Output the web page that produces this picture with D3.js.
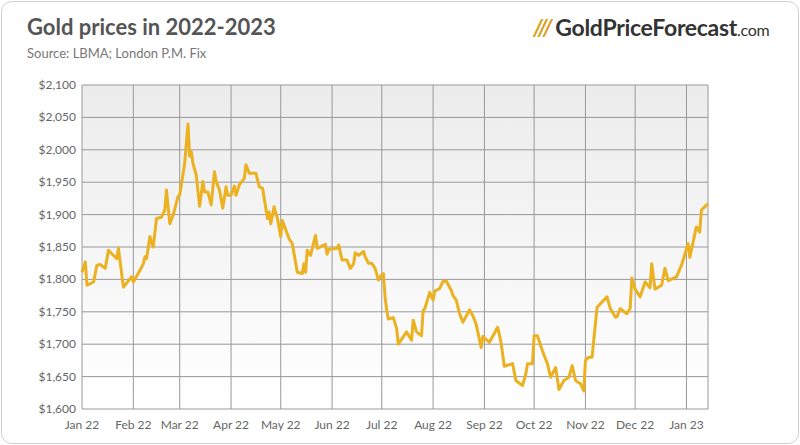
<!DOCTYPE html>
<html><head><meta charset="utf-8">
<script src="https://cdn.jsdelivr.net/npm/d3@7"></script>
<style>body{margin:0;background:#fff;font-family:Lato,"Open Sans",sans-serif}</style>
</head><body><svg id="c" width="800" height="445"></svg>
<script>
// day offset from 2022-01-01
const days = [0,2,3,7,9,11,14,16,19,21,22,25,30,31,35,37,38,39,41,43,45,48,50,51,53,55,58,59,62,64,65,66,67,69,71,73,74,76,78,80,81,83,85,87,88,90,92,93,95,98,99,101,105,107,109,112,113,114,116,118,120,121,125,127,130,133,134,135,136,138,141,142,147,148,149,154,155,157,160,162,164,165,167,170,171,173,175,177,179,180,182,183,184,185,188,190,191,196,199,200,202,205,206,207,210,212,213,216,218,220,223,224,226,228,230,234,236,238,241,242,246,251,253,255,260,262,266,268,269,272,273,275,278,281,283,286,288,291,294,296,298,301,303,304,306,308,311,317,319,322,323,325,329,331,332,334,337,340,343,344,346,350,352,354,359,362,366,367,371,373,374,378];
const prices = [1811,1827,1791,1796,1822,1823,1817,1845,1837,1832,1848,1788,1804,1796,1814,1824,1835,1832,1866,1850,1894,1896,1907,1938,1886,1899,1928,1930,1979,2040,1990,1997,1979,1961,1913,1951,1935,1935,1915,1966,1951,1938,1910,1943,1930,1930,1944,1930,1946,1956,1977,1964,1964,1943,1941,1894,1904,1886,1912,1894,1866,1891,1863,1855,1811,1809,1824,1811,1845,1837,1868,1848,1854,1839,1846,1848,1853,1830,1830,1817,1824,1841,1837,1843,1835,1825,1825,1817,1799,1804,1809,1773,1752,1739,1741,1724,1700,1719,1706,1737,1719,1713,1752,1755,1780,1768,1782,1786,1797,1797,1783,1775,1768,1747,1734,1753,1744,1731,1695,1712,1703,1726,1703,1666,1670,1644,1636,1654,1670,1670,1713,1713,1690,1670,1649,1664,1630,1644,1649,1667,1644,1639,1628,1675,1680,1680,1757,1773,1755,1742,1742,1755,1747,1755,1802,1785,1773,1796,1787,1824,1785,1791,1817,1798,1804,1822,1855,1834,1881,1873,1907,1917];
const yTicks = [1600,1650,1700,1750,1800,1850,1900,1950,2000,2050,2100];
const monthLabels = ["Jan 22","Feb 22","Mar 22","Apr 22","May 22","Jun 22","Jul 22","Aug 22","Sep 22","Oct 22","Nov 22","Dec 22","Jan 23"];

const svg = d3.select("#c");
const L=82,R=708,T=85,B=409;
const start = new Date(2022,0,1);
const dt = d => d3.timeDay.offset(start,d);
const x = d3.scaleTime().domain([start, dt(378)]).range([L,R]);
const y = d3.scaleLinear().domain([1600,2100]).range([B,T]);

svg.append("rect").attr("x",1.5).attr("y",1.5).attr("width",797).attr("height",442).attr("rx",10)
  .attr("fill","#fff").attr("stroke","#d0d0d0");
const g = svg.append("defs").append("linearGradient").attr("id","bg").attr("x1",0).attr("x2",0).attr("y1",0).attr("y2",1);
g.append("stop").attr("offset","0").attr("stop-color","#ececec");
g.append("stop").attr("offset","1").attr("stop-color","#ffffff");
svg.append("rect").attr("x",L).attr("y",T).attr("width",R-L).attr("height",B-T).attr("fill","url(#bg)");

svg.append("text").attr("x",27).attr("y",35).attr("font-size",22).attr("font-weight","bold").attr("fill","#555").text("Gold prices in 2022-2023");
svg.append("text").attr("x",27).attr("y",58).attr("font-size",13).attr("fill","#777").text("Source: LBMA; London P.M. Fix");
const logo = svg.append("text").attr("x",533).attr("y",36).attr("font-size",23).attr("font-weight","bold").attr("letter-spacing","-0.3");
logo.append("tspan").attr("fill","#d9a11d").attr("font-style","italic").text("///");
logo.append("tspan").attr("fill","#333").attr("dx",3).text("GoldPriceForecast");
logo.append("tspan").attr("fill","#333").attr("font-weight","normal").attr("font-size",16).text(".com");

const months = d3.range(13).map(i=>new Date(2022,i,1));
svg.append("g").selectAll("line").data(months).join("line")
  .attr("x1",d=>x(d)).attr("x2",d=>x(d)).attr("y1",T).attr("y2",B).attr("stroke","#999");
svg.append("g").selectAll("line").data(yTicks).join("line")
  .attr("x1",L).attr("x2",R).attr("y1",d=>y(d)).attr("y2",d=>y(d)).attr("stroke","#999");
svg.append("line").attr("x1",R).attr("x2",R).attr("y1",T).attr("y2",B).attr("stroke","#999");

svg.append("g").selectAll("text").data(yTicks).join("text")
  .attr("x",L-6).attr("y",d=>y(d)+4).attr("text-anchor","end").attr("font-size",12).attr("fill","#666")
  .text(d=>"$"+d3.format(",")(d));
svg.append("g").selectAll("text").data(months).join("text")
  .attr("x",d=>x(d)).attr("y",B+20).attr("text-anchor","middle").attr("font-size",12).attr("fill","#666")
  .text((d,i)=>monthLabels[i]);

const data = days.map((d,i)=>({d:dt(d),v:prices[i]}));
svg.append("path").datum(data).attr("fill","none").attr("stroke","#ebb120").attr("stroke-width",3).attr("stroke-linejoin","round")
  .attr("d",d3.line().x(d=>x(d.d)).y(d=>y(d.v)));
</script></body></html>
